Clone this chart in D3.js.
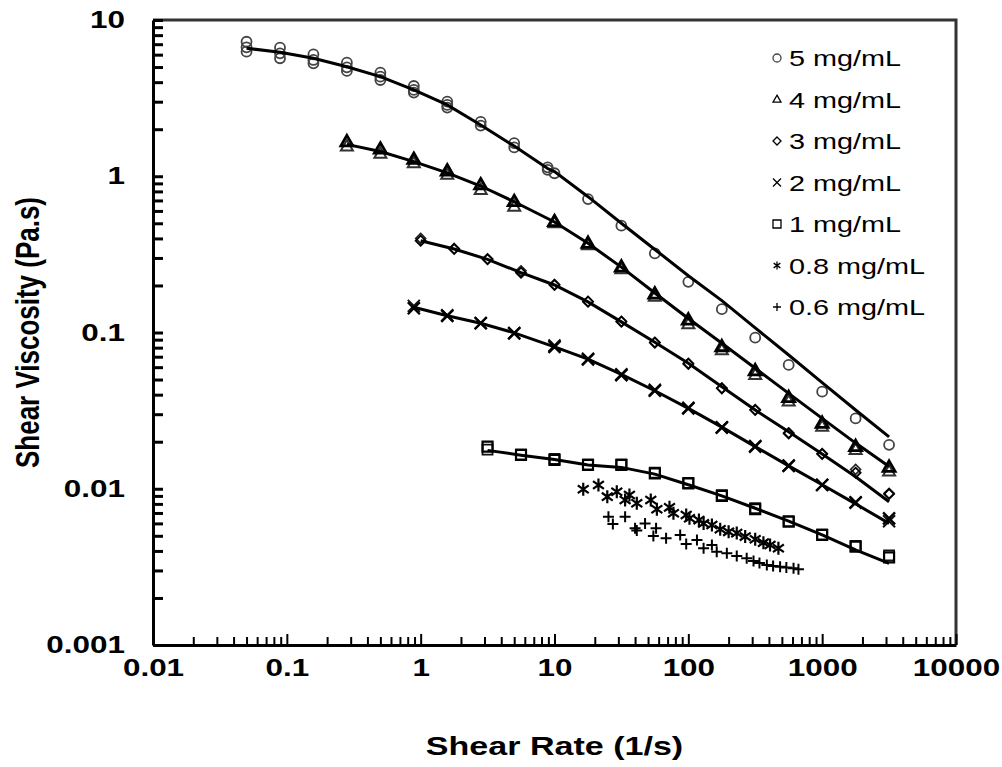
<!DOCTYPE html>
<html>
<head>
<meta charset="utf-8">
<script src="https://cdn.jsdelivr.net/npm/d3@7"></script>
<style>
  body { margin: 0; background: #fff; }
  svg { display: block; font-family: "Liberation Sans", Arial, sans-serif; }
</style>
</head>
<body>
<div id="chart"></div>
<script>
// shear rate grids (1/s)
var rate5Low = [0.05, 0.0889, 0.158, 0.281, 0.5, 0.889, 1.58, 2.81, 5.0, 8.89];
var rateHigh = [10, 17.8, 31.6, 56.2, 100, 178, 316, 562, 1000, 1778, 3162];

// 5 mg/mL (replicates)
var visc5a = [7.26, 6.65, 6.03, 5.33, 4.60, 3.78, 3.00, 2.23, 1.63, 1.14];
var visc5b = [6.69, 6.12, 5.55, 4.98, 4.34, 3.57, 2.86, 2.11, 1.53, 1.10];
var visc5c = [6.27, 5.69, 5.28, 4.72, 4.13, 3.43, 2.75];
var visc5High = [1.045, 0.714, 0.483, 0.321, 0.211, 0.141, 0.0927, 0.062, 0.0418, 0.0282, 0.0191];
var fit5 = [6.6, 6.21, 5.69, 5.02, 4.34, 3.57, 2.86, 2.13, 1.56, 1.12, 1.07, 0.74, 0.50, 0.34, 0.231, 0.16, 0.107, 0.0718, 0.0478, 0.0319, 0.0215];

// 4 mg/mL
var rate4 = [0.281, 0.5, 0.889, 1.58, 2.81, 5.0, 10, 17.8, 31.6, 56.2, 100, 178, 316, 562, 1000, 1778, 3162];
var visc4a = [1.66, 1.49, 1.28, 1.08, 0.879, 0.687, 0.512, 0.372, 0.262, 0.176, 0.120, 0.081, 0.0568, 0.0383, 0.0262, 0.0186, 0.0137];
var visc4b = [1.55, 1.39, 1.21, 1.02, 0.817, 0.638, 0.50, 0.362, 0.254, 0.169, 0.113, 0.077, 0.0535, 0.0361, 0.0249, 0.0177, 0.0129];
var fit4 = [1.60, 1.44, 1.24, 1.05, 0.866, 0.687, 0.51, 0.372, 0.262, 0.179, 0.123, 0.0853, 0.059, 0.0408, 0.0282, 0.0196, 0.0139];

// 3 mg/mL
var rate3 = [1.0, 1.78, 3.16, 5.62, 10, 17.8, 31.6, 56.2, 100, 178, 316, 562, 1000, 1778, 3162];
var visc3a = [0.387, 0.342, 0.294, 0.2415, 0.2014, 0.1574, 0.1172, 0.0860, 0.0629, 0.0439, 0.0319, 0.0226, 0.01667, 0.01267, 0.00925];
var visc3b = [0.40, 0.345, 0.296, 0.248, 0.203, 0.158, 0.118, 0.0865, 0.0635, 0.0441, 0.0321, 0.0228, 0.0168, 0.0133, 0.00935];
var fit3 = [0.387, 0.342, 0.294, 0.2415, 0.2014, 0.157, 0.117, 0.0865, 0.0635, 0.045, 0.0319, 0.0232, 0.0167, 0.01194, 0.00826];

// 2 mg/mL
var rate2 = [0.889, 1.58, 2.81, 5.0, 10, 17.8, 31.6, 56.2, 100, 178, 316, 562, 1000, 1778, 3162];
var visc2a = [0.143, 0.1277, 0.1146, 0.0988, 0.081, 0.0673, 0.0534, 0.0424, 0.0327, 0.0246, 0.0186, 0.0140, 0.01057, 0.00815, 0.00647];
var visc2b = [0.148, 0.129, 0.115, 0.0995, 0.0825, 0.068, 0.054, 0.043, 0.033, 0.0248, 0.0188, 0.0141, 0.0106, 0.0082, 0.0062];
var fit2 = [0.145, 0.128, 0.1146, 0.0995, 0.081, 0.0675, 0.054, 0.0424, 0.0327, 0.0248, 0.0186, 0.014, 0.0106, 0.0080, 0.0060];

// 1 mg/mL
var rate1 = [3.16, 5.62, 10, 17.8, 31.6, 56.2, 100, 178, 316, 562, 1000, 1778, 3162];
var visc1a = [0.0186, 0.01644, 0.01528, 0.01419, 0.01419, 0.01256, 0.01084, 0.0090, 0.0074, 0.00615, 0.00506, 0.00426, 0.00364];
var visc1b = [0.0178, 0.0166, 0.0155, 0.0143, 0.0143, 0.0127, 0.0109, 0.0091, 0.0075, 0.0062, 0.0051, 0.0043, 0.00375];
var fit1 = [0.0176, 0.0164, 0.0154, 0.0142, 0.0137, 0.0124, 0.0106, 0.0090, 0.0075, 0.0062, 0.00506, 0.00406, 0.00333];

// 0.8 mg/mL (no fit)
var rate08 = [16.4, 21.3, 24.8, 29.2, 33.7, 36.3, 41.2, 52.4, 58.2, 72.3, 77.4, 96.4, 102, 120, 130, 150, 173, 200, 230, 266, 316, 364, 408, 471];
var visc08 = [0.00992, 0.01057, 0.0089, 0.00957, 0.00847, 0.00912, 0.00807, 0.00847, 0.0074, 0.0076, 0.00697, 0.0068, 0.00647, 0.0063, 0.0060, 0.00586, 0.0055, 0.0053, 0.0052, 0.00494, 0.00475, 0.00452, 0.00437, 0.00416];

// 0.6 mg/mL (no fit)
var rate06 = [25.3, 27.3, 33.7, 40, 41.2, 47.5, 54.8, 57.4, 68.2, 86.9, 96.4, 116, 130, 150, 163, 194, 230, 273, 307, 340, 386, 430, 485, 540, 611, 665];
var visc06 = [0.00662, 0.00594, 0.00662, 0.00558, 0.0054, 0.0060, 0.00499, 0.00558, 0.00482, 0.00506, 0.00443, 0.0047, 0.00416, 0.00437, 0.00395, 0.00386, 0.00371, 0.00359, 0.00345, 0.00335, 0.00325, 0.0032, 0.00317, 0.00313, 0.0031, 0.00305];

var legendLabels = ['5 mg/mL', '4 mg/mL', '3 mg/mL', '2 mg/mL', '1 mg/mL', '0.8 mg/mL', '0.6 mg/mL'];
var legendShapes = ['circle', 'triangle', 'diamond', 'times', 'square', 'asterisk', 'plus'];
var xTickLabels = ['0.01', '0.1', '1', '10', '100', '1000', '10000'];
var yTickLabels = ['0.001', '0.01', '0.1', '1', '10'];

// layout
var W = 1002, H = 767;
var margin = { left: 153, right: 46, top: 20, bottom: 122 };
var SX = 1.31; // picture is stretched horizontally

var svg = d3.select('#chart').append('svg')
    .attr('width', W)
    .attr('height', H);

var x = d3.scaleLog().domain([0.01, 10000]).range([margin.left, W - margin.right]);
var y = d3.scaleLog().domain([0.001, 10]).range([H - margin.bottom, margin.top]);

function zip(xs, ys) {
    return ys.map(function(v, i) { return { x: xs[i], y: v }; });
}

// shape paths centred on 0,0
function shapePath(type, s) {
    var p = d3.path();
    if (type === 'triangle') {
        var h = s * 0.87;
        p.moveTo(0, -h * 0.62); p.lineTo(s / 2, h * 0.38); p.lineTo(-s / 2, h * 0.38); p.closePath();
    } else if (type === 'diamond') {
        p.moveTo(0, -s / 2); p.lineTo(s / 2, 0); p.lineTo(0, s / 2); p.lineTo(-s / 2, 0); p.closePath();
    } else if (type === 'square') {
        p.rect(-s / 2, -s / 2, s, s);
    } else if (type === 'times') {
        p.moveTo(-s / 2, -s / 2); p.lineTo(s / 2, s / 2);
        p.moveTo(s / 2, -s / 2); p.lineTo(-s / 2, s / 2);
    } else if (type === 'plus') {
        p.moveTo(-s / 2, 0); p.lineTo(s / 2, 0);
        p.moveTo(0, -s / 2); p.lineTo(0, s / 2);
    } else if (type === 'asterisk') {
        p.moveTo(-s * 0.42, -s * 0.3); p.lineTo(s * 0.42, s * 0.3);
        p.moveTo(s * 0.42, -s * 0.3); p.lineTo(-s * 0.42, s * 0.3);
        p.moveTo(0, -s / 2); p.lineTo(0, s / 2);
    } else {
        p.arc(0, 0, s / 2, 0, 2 * Math.PI);
    }
    return p.toString();
}

function drawMarkers(data, type, size, color, width) {
    svg.append('g').selectAll('path')
        .data(data)
        .enter().append('path')
        .attr('d', shapePath(type, size))
        .attr('transform', function(d) { return 'translate(' + x(d.x) + ',' + y(d.y) + ')'; })
        .attr('fill', 'none')
        .attr('stroke', color)
        .attr('stroke-width', width);
}

var line = d3.line()
    .x(function(d) { return x(d.x); })
    .y(function(d) { return y(d.y); });

function drawFit(data) {
    svg.append('path')
        .datum(data)
        .attr('d', line)
        .attr('fill', 'none')
        .attr('stroke', '#000')
        .attr('stroke-width', 3);
}

// markers
drawMarkers(zip(rate5Low, visc5a), 'circle', 10, '#444', 1.8);
drawMarkers(zip(rate5Low, visc5b), 'circle', 10, '#444', 1.8);
drawMarkers(zip(rate5Low, visc5c), 'circle', 10, '#444', 1.8);
drawMarkers(zip(rateHigh, visc5High), 'circle', 10, '#444', 1.8);

drawMarkers(zip(rate4, visc4b), 'triangle', 12, '#333', 2);
drawMarkers(zip(rate4, visc4a), 'triangle', 12, '#000', 2.8);

drawMarkers(zip(rate3, visc3b), 'diamond', 10, '#222', 1.6);
drawMarkers(zip(rate3, visc3a), 'diamond', 10, '#000', 1.8);

drawMarkers(zip(rate2, visc2b), 'times', 12, '#111', 2);
drawMarkers(zip(rate2, visc2a), 'times', 12, '#000', 2.4);

drawMarkers(zip(rate1, visc1b), 'square', 10, '#111', 1.8);
drawMarkers(zip(rate1, visc1a), 'square', 10, '#000', 2.2);

drawMarkers(zip(rate08, visc08), 'asterisk', 13, '#000', 2.2);
drawMarkers(zip(rate06, visc06), 'plus', 11, '#000', 2);

// fitted curves
drawFit(zip(rate5Low.concat(rateHigh), fit5));
drawFit(zip(rate4, fit4));
drawFit(zip(rate3, fit3));
drawFit(zip(rate2, fit2));
drawFit(zip(rate1, fit1));

// frame (top and right)
svg.append('path')
    .attr('d', 'M' + x(0.01) + ',' + y(10) + 'H' + x(10000) + 'V' + y(0.001))
    .attr('fill', 'none')
    .attr('stroke', '#333')
    .attr('stroke-width', 3);

// tick values
var xMinor = [], yMinor = [];
d3.range(-2, 4).forEach(function(e) {
    for (var k = 1; k < 10; k++) xMinor.push(k * Math.pow(10, e));
});
xMinor.push(10000);
d3.range(-3, 1).forEach(function(e) {
    for (var k = 1; k < 10; k++) yMinor.push(k * Math.pow(10, e));
});
yMinor.push(10);

function isMajor(v) {
    var l = Math.log10(v);
    return Math.abs(l - Math.round(l)) < 1e-9;
}

// x axis
var xAxis = svg.append('g')
    .attr('transform', 'translate(0,' + y(0.001) + ')')
    .call(d3.axisBottom(x)
        .tickValues(xMinor)
        .tickSizeOuter(0)
        .tickSizeInner(-8)
        .tickPadding(5)
        .tickFormat(function(d) {
            return isMajor(d) ? xTickLabels[Math.round(Math.log10(d)) + 2] : '';
        }));
xAxis.select('.domain').attr('stroke-width', 3).attr('stroke', '#000');
xAxis.selectAll('.tick line')
    .attr('stroke-width', 2)
    .attr('y2', function(d) { return isMajor(d) ? -11 : -8; });
xAxis.selectAll('.tick text')
    .attr('font-size', 24)
    .attr('font-weight', 'bold')
    .attr('fill', '#000')
    .attr('dy', '1.1em')
    .attr('transform', 'scale(' + SX + ',1)');

// y axis
var yAxis = svg.append('g')
    .attr('transform', 'translate(' + x(0.01) + ',0)')
    .call(d3.axisLeft(y)
        .tickValues(yMinor)
        .tickSizeOuter(0)
        .tickSizeInner(-10)
        .tickFormat(function(d) {
            return isMajor(d) ? yTickLabels[Math.round(Math.log10(d)) + 3] : '';
        }));
yAxis.select('.domain').attr('stroke-width', 3).attr('stroke', '#000');
yAxis.selectAll('.tick line').attr('stroke-width', 3);
yAxis.selectAll('.tick text')
    .attr('font-size', 24)
    .attr('font-weight', 'bold')
    .attr('fill', '#000')
    .attr('x', -28 / SX)
    .attr('transform', 'scale(' + SX + ',1)');

// axis titles
svg.append('text')
    .attr('transform', 'translate(' + ((x(0.01) + x(10000)) / 2) + ',755) scale(' + SX + ',1)')
    .attr('text-anchor', 'middle')
    .attr('font-size', 26)
    .attr('font-weight', 'bold')
    .text('Shear Rate (1/s)');

svg.append('text')
    .attr('transform', 'translate(39,' + ((y(10) + y(0.001)) / 2) + ') scale(' + SX + ',1) rotate(-90)')
    .attr('text-anchor', 'middle')
    .attr('font-size', 26)
    .attr('font-weight', 'bold')
    .text('Shear Viscosity (Pa.s)');

// legend
var legend = svg.append('g').attr('transform', 'translate(777,58)');
var rows = legend.selectAll('g')
    .data(legendLabels)
    .enter().append('g')
    .attr('transform', function(d, i) { return 'translate(0,' + (i * 41.5) + ')'; });
rows.append('path')
    .attr('d', function(d, i) { return shapePath(legendShapes[i], 8); })
    .attr('fill', 'none')
    .attr('stroke', function(d, i) { return i === 0 ? '#444' : '#000'; })
    .attr('stroke-width', 1.3);
rows.append('text')
    .attr('transform', 'translate(12,8) scale(' + SX + ',1)')
    .attr('font-size', 22)
    .attr('fill', '#000')
    .text(function(d) { return d; });
</script>
</body>
</html>
